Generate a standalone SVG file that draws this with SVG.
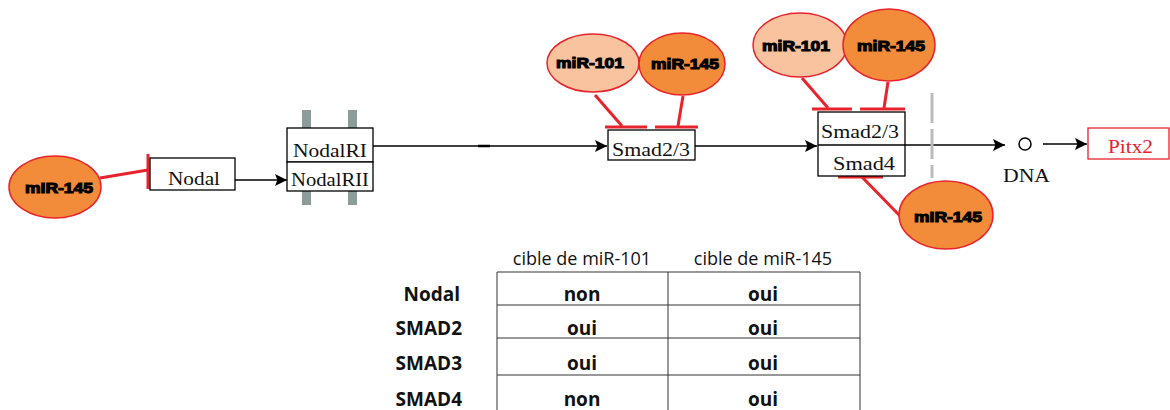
<svg xmlns="http://www.w3.org/2000/svg" width="1170" height="410" viewBox="0 0 1170 410">
<defs>
<style>
.box{fill:#fff;stroke:#000;stroke-width:1.3}
.st{font-family:"Liberation Serif","DejaVu Serif",serif;font-size:18px;fill:#111}
.edge{stroke:#000;stroke-width:1.3;fill:none}
.inh{stroke:#E8232B;stroke-width:3;fill:none}
.m101{fill:#F9C3A0;stroke:#E8232B;stroke-width:1.5}
.m145{fill:#F28C3A;stroke:#E8232B;stroke-width:1.5}
.ml{font-family:"Liberation Sans","DejaVu Sans",sans-serif;font-size:15px;font-weight:bold;fill:#000;stroke:#000;stroke-width:1.1}
.gb{fill:#8C9C98}
.tb{font-family:"Open Sans","Noto Sans",sans-serif;font-size:18px;fill:#111}
.tv{font-family:"Open Sans","Noto Sans",sans-serif;font-size:19px;font-weight:bold;fill:#111}
.tl{stroke:#333;stroke-width:1}
</style>
<marker id="arr" viewBox="0 0 10 10" refX="10" refY="5" markerWidth="17" markerHeight="12" markerUnits="userSpaceOnUse" orient="auto">
<path d="M0,0 L10,5 L0,10 L2,5 Z" fill="#000"/>
</marker>
</defs>

<g id="connectors">
<line class="edge" x1="235" y1="180" x2="287" y2="180" marker-end="url(#arr)"/>
<line class="edge" x1="373" y1="146" x2="607" y2="146" marker-end="url(#arr)"/>
<line x1="478" y1="146" x2="490" y2="146" stroke="#000" stroke-width="2.5"/>
<line class="edge" x1="695" y1="146" x2="817" y2="146" marker-end="url(#arr)"/>
<line class="edge" x1="818" y1="145" x2="1005" y2="145" marker-end="url(#arr)"/>
<line class="edge" x1="1043" y1="144" x2="1087" y2="144" marker-end="url(#arr)"/>
<line x1="932" y1="93" x2="932" y2="178" stroke="#bbb" stroke-width="3" stroke-dasharray="30,6"/>
<!-- inhibitions -->
<line class="inh" x1="100" y1="178" x2="148" y2="170"/>
<line class="inh" x1="148" y1="154" x2="148" y2="189"/>
<line class="inh" x1="595" y1="95" x2="622" y2="126"/>
<line class="inh" x1="605" y1="127" x2="647" y2="127"/>
<line class="inh" x1="683" y1="96" x2="678" y2="126"/>
<line class="inh" x1="655" y1="127" x2="698" y2="127"/>
<line class="inh" x1="802" y1="78" x2="828" y2="108"/>
<line class="inh" x1="812" y1="109" x2="852" y2="109"/>
<line class="inh" x1="888" y1="82" x2="884" y2="108"/>
<line class="inh" x1="860" y1="109" x2="905" y2="109"/>
<line class="inh" x1="838" y1="177" x2="883" y2="177"/>
<line class="inh" x1="862" y1="177" x2="902" y2="218"/>
</g>

<g id="nodal">
<rect class="box" x="150" y="158" width="85" height="32"/>
<text class="st" x="168" y="185" textLength="52" lengthAdjust="spacingAndGlyphs">Nodal</text>
</g>

<g id="nodalR">
<rect class="gb" x="302" y="110" width="9" height="95"/>
<rect class="gb" x="348" y="110" width="9" height="95"/>
<rect class="box" x="287" y="128" width="86" height="34"/>
<rect class="box" x="287" y="162" width="86" height="29"/>
<text class="st" x="293" y="157" textLength="74" lengthAdjust="spacingAndGlyphs">NodalRI</text>
<text class="st" x="291" y="186" textLength="78" lengthAdjust="spacingAndGlyphs">NodalRII</text>
</g>

<g id="smad23">
<rect class="box" x="608" y="130" width="87" height="30"/>
<text class="st" x="612" y="156" textLength="78" lengthAdjust="spacingAndGlyphs">Smad2/3</text>
</g>

<g id="smadComplex">
<rect class="box" x="818" y="112" width="87" height="64"/>
<line class="edge" x1="818" y1="145" x2="905" y2="145"/>
<text class="st" x="821" y="138" textLength="78" lengthAdjust="spacingAndGlyphs">Smad2/3</text>
<text class="st" x="833" y="170" textLength="62" lengthAdjust="spacingAndGlyphs">Smad4</text>
</g>

<g id="dna">
<circle cx="1025" cy="144" r="6" fill="#fff" stroke="#000" stroke-width="1.5"/>
<text class="st" x="1003" y="182" textLength="47" lengthAdjust="spacingAndGlyphs">DNA</text>
</g>

<g id="pitx2">
<rect x="1088" y="128" width="81" height="31" fill="#fff" stroke="#E8232B" stroke-width="1.3"/>
<text class="st" x="1108" y="153" textLength="45" lengthAdjust="spacingAndGlyphs" style="fill:#E8232B">Pitx2</text>
</g>

<g id="mir145-left">
<ellipse class="m145" cx="55" cy="187" rx="46" ry="31"/>
<text class="ml" x="25" y="193" textLength="68" lengthAdjust="spacingAndGlyphs">mIR-145</text>
</g>
<g id="mir101-a">
<ellipse class="m101" cx="593" cy="63" rx="46" ry="29"/>
<text class="ml" x="556" y="68" textLength="68" lengthAdjust="spacingAndGlyphs">miR-101</text>
</g>
<g id="mir145-a">
<ellipse class="m145" cx="682" cy="64" rx="43" ry="31"/>
<text class="ml" x="651" y="69" textLength="68" lengthAdjust="spacingAndGlyphs">miR-145</text>
</g>
<g id="mir101-b">
<ellipse class="m101" cx="800" cy="45" rx="47" ry="32"/>
<text class="ml" x="762" y="51" textLength="68" lengthAdjust="spacingAndGlyphs">miR-101</text>
</g>
<g id="mir145-b">
<ellipse class="m145" cx="889" cy="45" rx="46" ry="36"/>
<text class="ml" x="857" y="51" textLength="68" lengthAdjust="spacingAndGlyphs">miR-145</text>
</g>
<g id="mir145-c">
<ellipse class="m145" cx="946" cy="215" rx="47" ry="34"/>
<text class="ml" x="914" y="222" textLength="68" lengthAdjust="spacingAndGlyphs">mIR-145</text>
</g>

<g id="table">
<text class="tb" x="582" y="265" text-anchor="middle">cible de miR-101</text>
<text class="tb" x="763" y="265" text-anchor="middle">cible de miR-145</text>
<line class="tl" x1="497" y1="272" x2="860" y2="272"/>
<line class="tl" x1="497" y1="305" x2="860" y2="305"/>
<line class="tl" x1="497" y1="338" x2="860" y2="338"/>
<line class="tl" x1="497" y1="375" x2="860" y2="375"/>
<line class="tl" x1="497" y1="272" x2="497" y2="410"/>
<line class="tl" x1="668" y1="272" x2="668" y2="410"/>
<line class="tl" x1="860" y1="272" x2="860" y2="410"/>
<text class="tv" x="460" y="301" text-anchor="end">Nodal</text>
<text class="tv" x="462" y="335" text-anchor="end">SMAD2</text>
<text class="tv" x="462" y="370" text-anchor="end">SMAD3</text>
<text class="tv" x="462" y="406" text-anchor="end">SMAD4</text>
<text class="tv" x="582" y="301" text-anchor="middle">non</text>
<text class="tv" x="763" y="301" text-anchor="middle">oui</text>
<text class="tv" x="582" y="335" text-anchor="middle">oui</text>
<text class="tv" x="763" y="335" text-anchor="middle">oui</text>
<text class="tv" x="582" y="370" text-anchor="middle">oui</text>
<text class="tv" x="763" y="370" text-anchor="middle">oui</text>
<text class="tv" x="582" y="406" text-anchor="middle">non</text>
<text class="tv" x="763" y="406" text-anchor="middle">oui</text>
</g>
</svg>
